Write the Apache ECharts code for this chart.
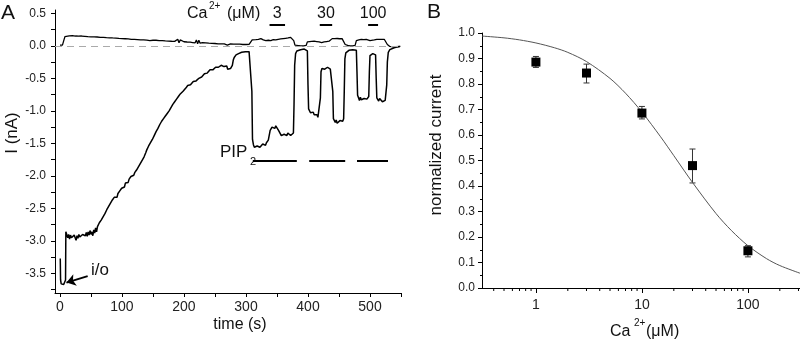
<!DOCTYPE html>
<html>
<head>
<meta charset="utf-8">
<script src="https://cdn.jsdelivr.net/npm/echarts@6/dist/echarts.min.js"></script>
<style>html,body{margin:0;padding:0;background:#fff}#main{width:800px;height:341px}</style>
</head>
<body>
<div id="main"></div>
<script>
// ---- panel A : current trace ----
var timeTicksA = [0, 100, 200, 300, 400, 500];
var currTicksA = [-3.5, -3.0, -2.5, -2.0, -1.5, -1.0, -0.5, 0.0, 0.5];

// lower trace, [time (s), I (nA)]
var lowTrace = [
  [0.5,-3.27],[1,-3.6],[2,-3.66],[4,-3.65],[6,-3.67],[8,-3.64],[9,-3.6],[9.5,-2.86],[11,-2.88],[12.5,-2.95],[14,-2.9],[15.5,-2.97],[17,-2.91],[18.5,-2.95],[20,-2.92],[21.5,-2.98],[23,-2.91],[24.5,-2.95],[26,-2.99],[27.5,-2.92],[29,-2.96],[30.5,-2.9],[32,-2.94],[33.5,-2.91],[35,-2.96],[36.5,-2.9],[38,-2.93],[39.5,-2.88],[41,-2.92],[42.5,-2.87],[44,-2.93],[45.5,-2.86],[47,-2.91],[48.5,-2.84],[50,-2.9],[51.5,-2.86],[53,-2.92],[54.5,-2.83],[56,-2.88],[57.5,-2.8],[59,-2.86],[60.5,-2.78],[62,-2.8],[63.5,-2.72],[65,-2.75],[66.5,-2.68],[68,-2.7],[69.5,-2.63],[71,-2.66],[72.5,-2.58],[74,-2.6],[75.5,-2.52],[77,-2.55],[78.5,-2.47],[80,-2.45],[81.5,-2.42],[83,-2.44],[84.5,-2.37],[86,-2.4],[87.5,-2.33],[89,-2.36],[90.5,-2.3],[92,-2.33],[93.5,-2.27],[95,-2.29],[96.5,-2.23],[98,-2.25],[99.5,-2.19],[101,-2.21],[102.5,-2.16],[104,-2.17],[105.5,-2.11],[107,-2.13],[108.5,-2.08],[110,-2.1],[111.5,-2.05],[113,-2.06],[114.5,-2.01],[116,-2.02],[117.5,-1.98],[119,-1.99],[120.5,-1.95],[122,-1.96],[123.5,-1.91],[125,-1.9],[126.5,-1.86],[128,-1.84],[129.5,-1.81],[131,-1.79],[132.5,-1.76],[134,-1.75],[135.5,-1.71],[137,-1.68],[138.5,-1.64],[140,-1.6],[141.5,-1.58],[143,-1.54],[144.5,-1.53],[146,-1.49],[147.5,-1.47],[149,-1.44],[150.5,-1.42],[152,-1.38],[153.5,-1.36],[155,-1.32],[156.5,-1.3],[158,-1.27],[159.5,-1.25],[161,-1.21],[162.5,-1.2],[164,-1.16],[165.5,-1.15],[167,-1.12],[168.5,-1.1],[170,-1.08],[171.5,-1.06],[173,-1.04],[174.5,-1.02],[176,-1.0],[177.5,-0.97],[179,-0.95],[180.5,-0.93],[182,-0.9],[183.5,-0.89],[185,-0.86],[186.5,-0.85],[188,-0.82],[189.5,-0.81],[191,-0.78],[192.5,-0.77],[194,-0.74],[195.5,-0.73],[197,-0.71],[198.5,-0.7],[200,-0.68],[201.5,-0.67],[203,-0.65],[204.5,-0.64],[206,-0.61],[207.5,-0.62],[209,-0.59],[210.5,-0.6],[212,-0.57],[213.5,-0.57],[215,-0.55],[216.5,-0.56],[218,-0.53],[219.5,-0.54],[221,-0.51],[222.5,-0.52],[224,-0.5],[225.5,-0.5],[227,-0.47],[228.5,-0.48],[230,-0.45],[231.5,-0.46],[233,-0.43],[234.5,-0.44],[236,-0.41],[237.5,-0.42],[239,-0.39],[240.5,-0.4],[242,-0.37],[243.5,-0.38],[245,-0.36],[246.5,-0.37],[248,-0.34],[249.5,-0.35],[251,-0.33],[252.5,-0.34],[254,-0.31],[255.5,-0.33],[257,-0.3],[258.5,-0.32],[260,-0.3],[261.5,-0.31],[263,-0.29],[264.5,-0.32],[266,-0.3],[267.5,-0.34],[269,-0.31],[270.5,-0.36],[272,-0.33],[273.5,-0.39],[275,-0.35],[276.5,-0.37],[278,-0.3],[279.5,-0.22],[281,-0.18],[282.5,-0.15],[284,-0.14],[286,-0.12],[288,-0.12],[290,-0.11],[293,-0.1],[296,-0.1],[299,-0.09],[302,-0.09],[305,-0.09],[308,-0.1],
  [309.5,-0.7],[310.5,-1.44],[312,-1.52],[313.5,-1.56],[315,-1.53],[316.5,-1.58],[318,-1.54],[319.5,-1.57],[321,-1.52],[322.5,-1.56],[324,-1.53],[325.5,-1.55],[327,-1.51],[328.5,-1.54],[330,-1.5],[331.5,-1.53],[333,-1.49],[334.5,-1.5],[336,-1.45],[337.5,-1.42],[339,-1.3],[340.5,-1.27],[342,-1.25],[343.5,-1.28],[345,-1.24],[346.5,-1.27],[348,-1.23],[349.5,-1.26],[351,-1.25],[352.5,-1.3],[354,-1.27],[355.5,-1.33],[357,-1.38],[358.5,-1.35],[360,-1.4],[361.5,-1.36],[363,-1.39],[364.5,-1.35],[366,-1.38],[367.5,-1.34],[369,-1.37],[370.5,-1.35],[372,-1.38],[373.5,-1.36],[375,-1.37],[376.5,-1.34],[377.5,-0.9],[378.5,-0.3],[380,-0.12],[382,-0.08],[385,-0.07],[388,-0.06],[391,-0.05],[394,-0.05],[397,-0.05],[399,-0.08],
  [400,-0.6],[401,-0.97],[402.5,-1.0],[404,-1.03],[405.5,-1.01],[407,-1.05],[408.5,-1.02],[410,-1.06],[411.5,-1.04],[413,-1.08],[414.5,-1.06],[416,-1.1],[417.5,-1.13],[419,-1.12],[420,-0.8],[421,-0.4],[422.5,-0.35],[424,-0.37],[425.5,-0.33],[427,-0.36],[428.5,-0.34],[430,-0.37],[431.5,-0.33],[433,-0.35],[434.5,-0.32],[436,-0.36],[437.5,-0.34],[439,-0.36],[440,-0.7],[441,-1.12],[442.5,-1.15],[444,-1.18],[445.5,-1.14],[447,-1.19],[448.5,-1.16],[450,-1.18],[451.5,-1.15],[453,-1.17],[454.5,-1.14],[456,-1.16],[457.5,-1.12],[458.5,-0.7],[459.5,-0.2],[461,-0.11],[463,-0.08],[466,-0.07],[469,-0.06],[472,-0.06],[475,-0.06],[478,-0.07],
  [479,-0.4],[480,-0.76],[481.5,-0.8],[483,-0.84],[484.5,-0.79],[486,-0.83],[487.5,-0.8],[489,-0.85],[490.5,-0.81],[492,-0.83],[493.5,-0.79],[495,-0.82],[496.5,-0.8],[498,-0.78],[499,-0.4],[500,-0.15],[501.5,-0.12],[503,-0.13],[504.5,-0.12],[506,-0.13],[507.5,-0.12],[509,-0.14],[510,-0.5],[511,-0.8],[512.5,-0.82],[514,-0.85],[515.5,-0.81],[517,-0.84],[518.5,-0.82],[520,-0.86],[521.5,-0.83],[523,-0.87],[524.5,-0.84],[526,-0.86],[527,-0.6],[528,-0.25],[529.5,-0.1],[532,-0.06],[535,-0.04],[539,-0.03],[543,-0.02],[548,-0.01]
];

// upper trace, [time (s), I (nA)]
var upTrace = [
  [0,0.01],[4,0.01],[7,0.01],[8,0.14],[10,0.155],[15,0.152],[20,0.155],[25,0.15],[30,0.148],[35,0.15],[40,0.145],[45,0.14],[50,0.138],[55,0.137],[60,0.135],[65,0.13],[70,0.128],[75,0.125],[80,0.123],[85,0.12],[90,0.118],[95,0.113],[100,0.11],[105,0.108],[110,0.105],[115,0.1],[120,0.098],[125,0.096],[130,0.092],[135,0.09],[140,0.088],[143,0.1],[145,0.08],[148,0.095],[150,0.085],[155,0.085],[160,0.08],[165,0.078],[170,0.075],[175,0.073],[180,0.07],[185,0.068],[188,0.05],[190,0.1],[192,0.045],[194,0.09],[196,0.06],[200,0.062],[205,0.058],[210,0.055],[214,0.05],[218,0.045],[220,0.09],[222,0.03],[224,0.085],[226,0.04],[228,0.07],[230,0.05],[235,0.045],[240,0.04],[245,0.038],[250,0.035],[255,0.03],[260,0.03],[265,0.028],[268,0.045],[270,0.01],[272,0.04],[275,0.028],[280,0.025],[285,0.025],[290,0.025],[295,0.02],[300,0.02],[305,0.022],[308,0.03],
  [310,0.09],[313,0.1],[316,0.095],[320,0.1],[324,0.11],[328,0.09],[332,0.08],[336,0.085],[340,0.08],[344,0.095],[348,0.09],[352,0.1],[356,0.105],[360,0.11],[364,0.115],[368,0.12],[372,0.13],[375,0.14],[377,0.08],[379,0.01],[383,0.005],[388,0.0],[393,0.0],[397,0.005],
  [399,0.06],[402,0.07],[406,0.068],[410,0.07],[414,0.065],[418,0.06],[420,0.035],[422,0.05],[426,0.06],[430,0.065],[434,0.07],[437,0.09],[439,0.11],[443,0.11],[447,0.112],[451,0.108],[455,0.11],[458,0.105],[460,0.02],[464,0.005],[468,0.0],[472,0.0],[476,0.005],
  [478,0.08],[482,0.09],[486,0.1],[490,0.095],[494,0.1],[497,0.09],[500,0.08],[503,0.1],[507,0.09],[511,0.1],[515,0.1],[519,0.098],[523,0.1],[526,0.095],[528,0.02],[532,-0.01],[537,-0.015],[542,-0.015],[549,-0.01]
];

var caDoses = ['3', '30', '100'];
var caBars = [[338, 363], [419, 439], [497, 513]];   // time spans
var caBarLevel = 0.33;
var pipBars = [[311, 382], [402, 460], [479, 529]];
var pipBarLevel = -1.76;
var ioArrow = [[44.7, -3.54], [10.5, -3.64]];

// ---- panel B : dose response ----
var caConc = [1, 3, 10, 30, 100];
var normCurrent = [0.886, 0.843, 0.686, 0.48, 0.146];
var errLow = [0.865, 0.804, 0.663, 0.412, 0.122];
var errHigh = [0.908, 0.878, 0.712, 0.545, 0.166];
var fitX = [0.31, 0.5, 0.7, 1, 1.5, 2, 3, 5, 7, 10, 15, 20, 30, 50, 70, 100, 150, 200, 310];
var fitY = [0.988, 0.981, 0.973, 0.961, 0.942, 0.924, 0.888, 0.822, 0.764, 0.69, 0.593, 0.519, 0.414, 0.292, 0.225, 0.166, 0.115, 0.088, 0.058];
var minorTicksB = [0.4, 0.5, 0.6, 0.7, 0.8, 0.9, 2, 3, 4, 5, 6, 7, 8, 9, 20, 30, 40, 50, 60, 70, 80, 90, 200, 300];

var FONT = 'Liberation Sans, Arial, sans-serif';
var myChart = echarts.init(document.getElementById('main'));

function zip(a, b) {
    return a.map(function (v, i) { return [v, b[i]]; });
}
function steps(from, to, step) {
    let out = [];
    for (let v = from; v <= to + 1e-9; v += step) out.push(Math.round(v * 100) / 100);
    return out;
}

let barLines = [];
caBars.forEach(function (b) {
    barLines.push([{ coord: [b[0], caBarLevel] }, { coord: [b[1], caBarLevel] }]);
});
pipBars.forEach(function (b) {
    barLines.push([{ coord: [b[0], pipBarLevel] }, { coord: [b[1], pipBarLevel] }]);
});
barLines.push([{ coord: ioArrow[0], symbol: 'none' },
    { coord: ioArrow[1], symbol: 'arrow', symbolSize: 9, lineStyle: { width: 2 } }]);

let axisBase = {
    axisLine: { onZero: false, lineStyle: { color: '#000', width: 1 } },
    axisTick: { length: 4, lineStyle: { color: '#000' } },
    splitLine: { show: false }
};

let option = {
    animation: false,
    textStyle: { fontFamily: FONT },
    grid: [
        { left: 55, top: 10, right: 399, bottom: 48 },
        { left: 482, top: 33, right: 0, bottom: 53 }
    ],
    xAxis: [
        echarts.util.merge({
            gridIndex: 0, type: 'value', min: -8, max: 550,
            axisTick: { customValues: steps(0, 550, 50) },
            axisLabel: { customValues: timeTicksA, fontSize: 14, color: '#222', margin: 7 }
        }, axisBase),
        echarts.util.merge({
            gridIndex: 1, type: 'log', logBase: 10, min: 0.31, max: 310,
            axisTick: { length: 5 },
            axisLabel: { showMinLabel: false, showMaxLabel: false, fontSize: 14, color: '#222', margin: 10 }
        }, axisBase)
    ],
    yAxis: [
        echarts.util.merge({
            gridIndex: 0, type: 'value', min: -3.8, max: 0.55,
            axisTick: { customValues: steps(-3.75, 0.5, 0.25) },
            axisLabel: {
                customValues: currTicksA, fontSize: 12, color: '#222', margin: 9,
                formatter: function (v) { return v.toFixed(1); }
            }
        }, axisBase),
        echarts.util.merge({
            gridIndex: 1, type: 'value', min: 0, max: 1, interval: 0.1,
            minorTick: { show: true, splitNumber: 2, length: 2, lineStyle: { color: '#000' } },
            axisLabel: {
                fontSize: 12, color: '#222', margin: 7,
                formatter: function (v) { return v.toFixed(1); }
            }
        }, axisBase)
    ],
    series: [
        {
            type: 'line', xAxisIndex: 0, yAxisIndex: 0,
            data: upTrace, showSymbol: false, silent: true,
            lineStyle: { color: '#000', width: 1.3 },
            markLine: {
                silent: true, symbol: ['none', 'none'], animation: false,
                label: { show: false },
                lineStyle: { color: '#000', width: 2, type: 'solid' },
                data: [{ yAxis: 0, lineStyle: { color: '#aaa', width: 1, type: [7, 5] } }].concat(barLines)
            }
        },
        {
            type: 'line', xAxisIndex: 0, yAxisIndex: 0,
            data: lowTrace, showSymbol: false, silent: true,
            lineStyle: { color: '#000', width: 1.5 }
        },
        {
            type: 'line', xAxisIndex: 1, yAxisIndex: 1,
            data: zip(fitX, fitY), smooth: 0.3, showSymbol: false, silent: true,
            lineStyle: { color: '#555', width: 1 }
        },
        {
            type: 'custom', xAxisIndex: 1, yAxisIndex: 1, silent: true,
            data: caConc.map(function (c, i) { return [c, errLow[i], errHigh[i]]; }),
            renderItem: function (params, api) {
                let lo = api.coord([api.value(0), api.value(1)]);
                let hi = api.coord([api.value(0), api.value(2)]);
                let st = { stroke: '#333', lineWidth: 1 };
                return {
                    type: 'group',
                    children: [
                        { type: 'line', shape: { x1: lo[0], y1: lo[1], x2: hi[0], y2: hi[1] }, style: st },
                        { type: 'line', shape: { x1: lo[0] - 3, y1: lo[1], x2: lo[0] + 3, y2: lo[1] }, style: st },
                        { type: 'line', shape: { x1: hi[0] - 3, y1: hi[1], x2: hi[0] + 3, y2: hi[1] }, style: st }
                    ]
                };
            }
        },
        {
            type: 'scatter', xAxisIndex: 1, yAxisIndex: 1, silent: true, z: 5,
            data: zip(caConc, normCurrent),
            symbol: 'rect', symbolSize: 9,
            itemStyle: { color: '#000', opacity: 1 }
        },
        {
            // log minor ticks 2..9 of each decade
            type: 'custom', xAxisIndex: 1, yAxisIndex: 1, silent: true,
            data: minorTicksB.map(function (v) { return [v, 0]; }),
            renderItem: function (params, api) {
                let p = api.coord([api.value(0), 0]);
                return { type: 'line', shape: { x1: p[0], y1: p[1], x2: p[0], y2: p[1] + 3 }, style: { stroke: '#000', lineWidth: 1 } };
            }
        }
    ]
};
myChart.setOption(option);

function txt(x, y, text, size, extra) {
    let el = {
        type: 'text', x: x, y: y, silent: true,
        style: { text: text, fontSize: size, fontFamily: FONT, fill: '#111', align: 'left', verticalAlign: 'middle' }
    };
    if (extra) echarts.util.merge(el, extra, true);
    return el;
}

let graphics = [
    txt(1, 13, 'A', 21),
    txt(427, 12, 'B', 21),
    txt(12, 133, 'I (nA)', 17, { rotation: Math.PI / 2, style: { align: 'center' } }),
    txt(240, 325, 'time (s)', 16, { style: { align: 'center' } }),
    txt(436, 145, 'normalized current', 17, { rotation: Math.PI / 2, style: { align: 'center' } }),
    txt(610, 332, 'Ca', 16),
    txt(634, 323, '2+', 10),
    txt(646, 332, '(\u03bcM)', 16),
    txt(187, 14, 'Ca', 16),
    txt(209, 6, '2+', 10),
    txt(227, 14, '(\u03bcM)', 16),
    txt(220, 152, 'PIP', 17),
    txt(250, 162, '2', 11),
    txt(91, 270, 'i/o', 17)
];
caBars.forEach(function (b, i) {
    let p = myChart.convertToPixel({ xAxisIndex: 0, yAxisIndex: 0 }, [(b[0] + b[1]) / 2, caBarLevel]);
    graphics.push(txt(p[0], 14, caDoses[i], 16, { style: { align: 'center' } }));
});
myChart.setOption({ graphic: graphics });
</script>
</body>
</html>
